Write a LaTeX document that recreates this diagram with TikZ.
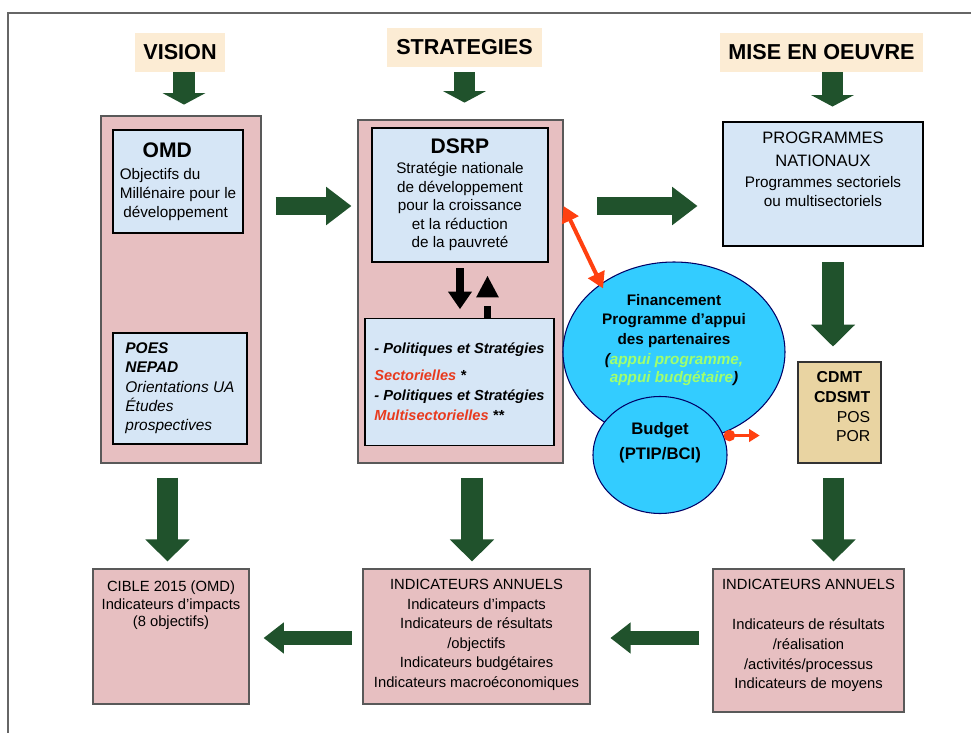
\documentclass[tikz,border=0pt]{standalone}
\usepackage{fontspec}
\setmainfont{Liberation Sans}
\usetikzlibrary{arrows.meta,positioning,shapes.geometric}

\definecolor{rosebox}{RGB}{231,191,193}
\definecolor{paleblue}{RGB}{214,230,246}
\definecolor{peach}{RGB}{252,236,212}
\definecolor{sand}{RGB}{233,212,162}
\definecolor{sky}{RGB}{51,204,255}
\definecolor{forest}{RGB}{32,82,44}
\definecolor{signal}{RGB}{255,64,16}
\definecolor{lime}{RGB}{160,255,110}
\definecolor{redtxt}{RGB}{232,58,30}

\newcommand{\titlefont}{\fontsize{12}{14}\selectfont\bfseries}

\tikzset{
  dims/.style 2 args={minimum width=#1*0.02cm, minimum height=#2*0.02cm},
  head/.style={fill=peach, inner sep=0pt, font=\fontsize{12.3}{15}\selectfont\bfseries},
  column/.style={draw=black!65, fill=rosebox, line width=0.6pt, inner sep=0pt},
  inner/.style={draw=black, fill=paleblue, line width=0.6pt, inner sep=0pt},
  sandbox/.style={draw=black!80, fill=sand, line width=0.6pt, inner sep=0pt},
  blob/.style={ellipse, draw=black!60!blue, fill=sky, line width=0.6pt, inner sep=0pt},
  txt/.style={inner sep=0pt, align=center},
  greenstub/.style={draw=forest, line width=12pt, -{Triangle[width=24pt,length=6.5pt]}},
  greenlong/.style={draw=forest, line width=12pt, -{Triangle[width=24.5pt,length=12.5pt]}},
  greenside/.style={draw=forest, line width=10pt, -{Triangle[width=21pt,length=14.5pt]}},
  greenback/.style={draw=forest, line width=8pt, -{Triangle[width=17pt,length=11.5pt]}},
  blackdown/.style={draw=black, line width=4.5pt, -{Triangle[width=13pt,length=10pt]}},
  blackup/.style={draw=black, line width=4.5pt, dash pattern=on 6.8pt off 20pt,
    -{Triangle[width=12pt,length=12.5pt]}},
  redboth/.style={draw=signal, line width=2.3pt,
    {Triangle[width=10pt,length=9pt]}-{Triangle[width=10pt,length=9pt]}},
  redout/.style={draw=signal, line width=1.8pt, {Circle[length=6.5pt]}-{Triangle[width=7pt,length=6pt]}}
}

\begin{document}
\begin{tikzpicture}[x=0.02cm, y=-0.02cm]
  \useasboundingbox (0,0) rectangle (971,733);
  \draw[black!60, line width=0.7pt] (8,733) -- (8,13) -- (971,13);

  % headings
  \node[head, dims={90}{39}]  (vision) at (180,52.5)   {VISION};
  \node[head, dims={155}{39}] (strat)  at (464.5,47.5) {STRATEGIES};
  \node[head, dims={203}{39}] (mise)   at (821.5,52.5) {MISE EN OEUVRE};

  % vision column
  \node[column, dims={160}{347}] (leftcol) at (181,289.5) {};
  \node[inner, dims={130}{103}, align=left,
        font=\fontsize{8.7}{10.8}\selectfont] (omd) at (178,181.5)
    {{\titlefont\hspace*{13pt}OMD}\\[1.5pt] Objectifs du\\ Millénaire pour le\\ \hspace*{2pt}développement};
  \node[inner, dims={134}{111}, align=left,
        font=\fontsize{8.8}{11}\selectfont\itshape] (poes) at (180,388.5)
    {\textbf{POES}\\ \textbf{NEPAD}\\ Orientations UA\hspace*{10pt}\\ Études\\ prospectives};

  % strategies column
  \node[column, dims={205}{343}] (midcol) at (460.5,291.5) {};
  \node[inner, dims={176}{134}, align=center,
        font=\fontsize{8.7}{10.5}\selectfont] (dsrp) at (460,195)
    {{\titlefont DSRP}\\[1pt] Stratégie nationale\\ de développement\\ pour la croissance\\
     et la réduction\\ de la pauvreté};
  \node[inner, dims={189}{127}, align=left,
        font=\fontsize{8.3}{11.5}\selectfont\bfseries\itshape] (pol) at (459.5,382)
    {- Politiques et Stratégies\\[3.5pt] \textcolor{redtxt}{Sectorielles} *\\
     - Politiques et Stratégies\\ \textcolor{redtxt}{Multisectorielles} **};

  % implementation column
  \node[inner, dims={200}{124}] (prog) at (823,184) {};
  \node[txt, below=6pt of prog.north, font=\fontsize{8.7}{10.8}\selectfont] (progtext)
    {{\fontsize{9.4}{12}\selectfont PROGRAMMES}\\[2.2pt]
     {\fontsize{9.4}{12}\selectfont NATIONAUX}\\[1.2pt]
     Programmes sectoriels\\ ou multisectoriels};
  \node[sandbox, dims={83}{101}] (cdmt) at (839.5,412.5) {};
  \node[inner sep=0pt, align=right, below left=5.4pt and 6.2pt of cdmt.north east,
        font=\fontsize{9}{11.3}\selectfont] (cdmttext)
    {\textbf{CDMT}\hspace*{4.5pt}\\ \textbf{CDSMT}\hspace*{4.5pt}\\ POS\\ POR};

  % financing
  \node[blob, dims={222}{180}] (fin) at (674,352) {};
  \node[txt, font=\fontsize{8.7}{11.3}\selectfont\bfseries] (fintext)
    at ([yshift=0.24cm]fin.center)
    {Financement\\ Programme d’appui\\ des partenaires\\
     {\itshape (\textcolor{lime}{appui programme,}}\\[-1pt]
     {\itshape\textcolor{lime}{appui budgétaire})}};
  \node[blob, dims={134}{117}] (budget) at (660,455) {};
  \node[txt, font=\fontsize{9.5}{14}\selectfont\bfseries] (budgettext)
    at ([yshift=0.25cm]budget.center) {Budget\\ (PTIP/BCI)};

  % indicators
  \node[column, dims={156}{135}] (cible) at (171,636.5) {};
  \node[txt, below=7pt of cible.north, font=\fontsize{8.4}{9.9}\selectfont] (cibletext)
    {CIBLE 2015 (OMD)\\ Indicateurs d’impacts\\ (8 objectifs)};
  \node[column, dims={227}{135}] (indmid) at (476.5,636.5) {};
  \node[txt, below=6pt of indmid.north, font=\fontsize{8.4}{11.1}\selectfont] (indmidtext)
    {INDICATEURS ANNUELS\\ Indicateurs d’impacts\\ Indicateurs de résultats\\ /objectifs\\
     Indicateurs budgétaires\\ Indicateurs macroéconomiques};
  \node[column, dims={191}{143}] (indright) at (808.5,640.5) {};
  \node[txt, below=6pt of indright.north, font=\fontsize{8.4}{11.3}\selectfont] (indrighttext)
    {INDICATEURS ANNUELS\\[11.3pt] Indicateurs de résultats\\ /réalisation\\
     /activités/processus\\ Indicateurs de moyens};

  \path (0,206) coordinate (toprow) (0,638) coordinate (botrow);

  % green arrows
  \draw[greenstub, shorten >=6.2pt] ([xshift=0.08cm]vision.south) -- ([xshift=0.08cm]vision.south |- leftcol.north);
  \draw[greenstub, shorten <=2.8pt, shorten >=9.6pt] (strat.south) -- (strat.south |- midcol.north);
  \draw[greenstub, shorten >=8.5pt] ([xshift=0.22cm]mise.south) -- ([xshift=0.22cm]mise.south |- prog.north);
  \draw[greenlong, shorten <=9pt, shorten >=8.5pt] ([xshift=0.2cm]prog.south) -- ([xshift=0.2cm]prog.south |- cdmt.north);
  \draw[greenlong, shorten <=8pt, shorten >=4pt] ([xshift=-0.12cm]cdmt.south) -- ([xshift=-0.12cm]cdmt.south |- indright.north);
  \draw[greenlong, shorten <=8pt, shorten >=4pt] ([xshift=-0.07cm]cible.north |- leftcol.south) -- ([xshift=-0.07cm]cible.north);
  \draw[greenlong, shorten <=8pt, shorten >=4pt] ([xshift=-0.09cm]indmid.north |- midcol.south) -- ([xshift=-0.09cm]indmid.north);
  \draw[greenside, shorten <=8pt, shorten >=3.4pt] (leftcol.east |- toprow) -- (midcol.west |- toprow);
  \draw[greenside, shorten <=19.3pt, shorten >=14.2pt] (midcol.east |- toprow) -- (prog.west |- toprow);
  \draw[greenback, shorten <=6.2pt, shorten >=8pt] (indmid.west |- botrow) -- (cible.east |- botrow);
  \draw[greenback, shorten <=7.4pt, shorten >=11.3pt] (indright.west |- botrow) -- (indmid.east |- botrow);

  % dsrp <-> policies
  \draw[blackdown, shorten <=3.4pt, shorten >=5pt] (dsrp.south) -- (dsrp.south |- pol.north);
  \draw[blackup, shorten >=7.4pt] ([xshift=0.56cm]pol.north) -- ([xshift=0.56cm]pol.north |- dsrp.south);

  % red links
  \draw[redboth, shorten >=-3pt] (midcol.east |- toprow) -- (fin.137);
  \draw[redout, shorten >=21.5pt] (budget.17) -- (budget.17 -| cdmt.west);
\end{tikzpicture}
\end{document}
